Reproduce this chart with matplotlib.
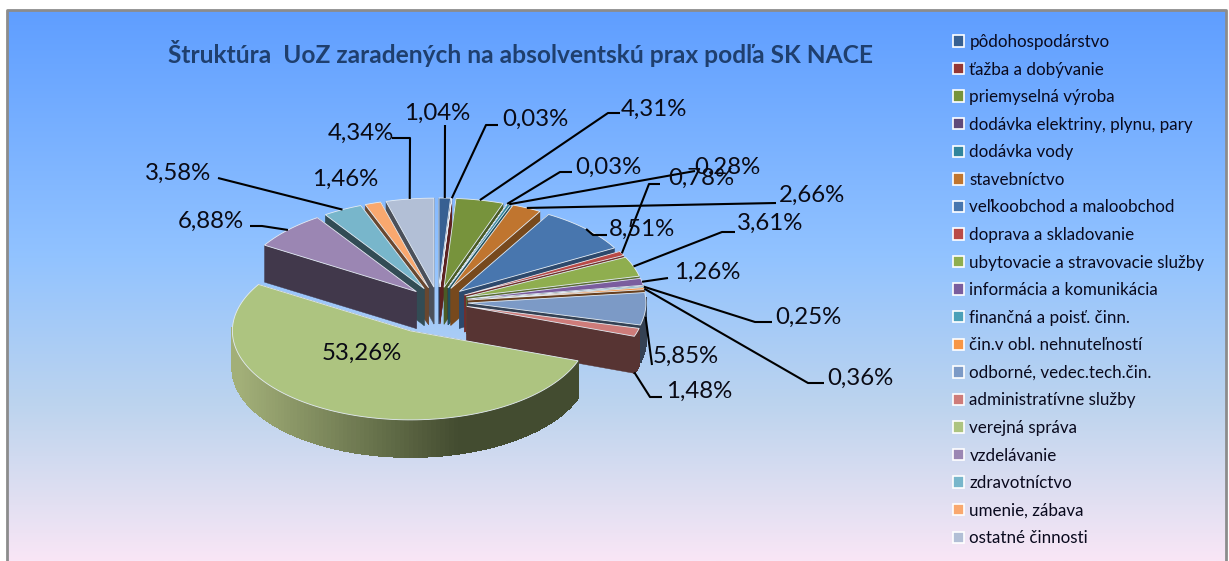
import numpy as np
import matplotlib
matplotlib.use('Agg')
import matplotlib.pyplot as plt
from matplotlib.colors import LinearSegmentedColormap, to_rgb
from matplotlib.patches import Polygon, Patch

title = 'Štruktúra  UoZ zaradených na absolventskú prax podľa SK NACE'
categories = ['pôdohospodárstvo', 'ťažba a dobývanie', 'priemyselná výroba',
              'dodávka elektriny, plynu, pary', 'dodávka vody', 'stavebníctvo',
              'veľkoobchod a maloobchod', 'doprava a skladovanie',
              'ubytovacie a stravovacie služby', 'informácia a komunikácia',
              'finančná a poisť. činn.', 'čin.v obl. nehnuteľností',
              'odborné, vedec.tech.čin.', 'administratívne služby',
              'verejná správa', 'vzdelávanie', 'zdravotníctvo',
              'umenie, zábava', 'ostatné činnosti']
values = [1.04, 0.03, 4.31, 0.03, 0.28, 2.66, 8.51, 0.78, 3.61, 1.26,
          0.25, 0.36, 5.85, 1.48, 53.26, 6.88, 3.58, 1.46, 4.34]
colors = ['#376092', '#953735', '#77933C', '#604A7B', '#31859C', '#C0752F',
          '#4876AE', '#B94A47', '#8FAE4F', '#7A5D9E', '#4BA0B8', '#F79646',
          '#7C9AC6', '#CE7C7A', '#ADC480', '#9B86B3', '#78B6CB', '#F9A86F',
          '#B2BFD6']

# pie geometry, in pixels
CX, CY = 438, 302
RADIUS = 178
TILT = 0.5
DEPTH = 37
EXPLODE = 30
BIG_EXPLODE = 64

# label position + leader elbow points (last one is next to the text)
labels_at = [(437, 113), (535, 119), (654, 109), (608, 167), (727, 167),
             (812, 195), (642, 229), (701, 178), (770, 223), (707, 272),
             (808, 317), (860, 378), (686, 356), (699, 391), (362, 353),
             (211, 221), (178, 173), (345, 179), (361, 133)]
elbows = [[(445, 125)],
          [(486, 125), (498, 125)],
          [(608, 113), (620, 113)],
          [(560, 172), (572, 172)],
          [(695, 171)],
          [(776, 203)],
          [(593, 235), (607, 235)],
          [(649, 184), (660, 184)],
          [(722, 232), (735, 232)],
          [(668, 278)],
          [(755, 322), (772, 322)],
          [(808, 383), (824, 383)],
          [(652, 365)],
          [(650, 397), (662, 397)],
          [],
          [(262, 226), (250, 226)],
          [(218, 178)],
          [],
          [(410, 138), (392, 138)]]
# where the leader leaves the slice: fraction of the slice angle, drop below the rim
leader_pos = [0.5] * len(values)
leader_drop = [0] * len(values)
leader_drop[12] = 8
leader_drop[13] = 36
leader_pos[13] = 1.0


def darker(col, f):
    return tuple(c * f for c in to_rgb(col))


def rim(apex, t, r=RADIUS):
    return apex[0] + r * np.sin(t), apex[1] - r * TILT * np.cos(t)


fig = plt.figure(figsize=(12.29, 5.61), dpi=100, facecolor='white')
ax = fig.add_axes([0, 0, 1, 1])
ax.axis('off')
plt.rcParams['font.family'] = ['Lato', 'DejaVu Sans']

bg = LinearSegmentedColormap.from_list('bg', [(0, '#5F9EFF'), (0.45, '#92C3FF'),
                                              (0.72, '#BDD4EE'), (0.9, '#E3E0F2'),
                                              (1, '#F9E6F6')])
ax.imshow(np.linspace(0, 1, 256).reshape(-1, 1), cmap=bg, aspect='auto',
          extent=(7, 1226, 561, 10), zorder=0)
ax.plot([7, 7, 1226, 1226], [561, 10, 10, 561], color='#8C8C8C', lw=2.0, zorder=1)

ax.text(521, 53, title, color='#1F3F6E', fontsize=17.65, fontweight='bold',
        ha='center', va='center', zorder=5)

frac = np.array(values) / sum(values)
starts = np.concatenate([[0], np.cumsum(frac)[:-1]]) * 2 * np.pi
ends = np.cumsum(frac) * 2 * np.pi
mids = (starts + ends) / 2
big = int(np.argmax(values))

apexes = []
for i in range(len(values)):
    e = BIG_EXPLODE if i == big else EXPLODE
    apexes.append((CX + e * np.sin(mids[i]), CY - e * TILT * np.cos(mids[i])))

order = sorted(range(len(values)), key=lambda i: (i == big, -np.cos(mids[i])))
z = 2.0
for i in order:
    apex = apexes[i]
    col = colors[i]
    ts = np.linspace(starts[i], ends[i], max(4, int(values[i] * 2.5)))
    # slices at the upper right show a lighter cut face
    shade = 0.62 if np.sin(mids[i]) > 0 and np.cos(mids[i]) > 0.2 else 0.42
    wall = darker(col, shade)
    # radial cut faces
    for t in (starts[i], ends[i]):
        x, y = rim(apex, t)
        ax.add_patch(Polygon([apex, (x, y), (x, y + DEPTH), (apex[0], apex[1] + DEPTH)],
                             fc=wall, ec=wall, lw=0.3, zorder=z))
    # outer wall, only the part facing us
    for a, b in zip(ts[:-1], ts[1:]):
        if np.cos((a + b) / 2) > 0.05:
            continue
        x0, y0 = rim(apex, a)
        x1, y1 = rim(apex, b)
        if i == big:
            s = np.clip((x0 - 240) / 220, 0, 1)
            c = np.array(to_rgb('#A2AF78')) * (1 - s) + np.array(to_rgb('#434C30')) * s
        else:
            c = wall
        ax.add_patch(Polygon([(x0, y0), (x1, y1), (x1, y1 + DEPTH), (x0, y0 + DEPTH)],
                             fc=c, ec=c, lw=0.8, antialiased=False, zorder=z))
    top = [apex] + [rim(apex, t) for t in ts]
    ax.add_patch(Polygon(top, fc=col, ec='#E4ECF4', lw=0.6, zorder=z + 0.1))
    z += 0.2

# data labels and leader lines
for i, v in enumerate(values):
    txt = f'{v:.2f}'.replace('.', ',') + '%'
    ax.text(labels_at[i][0], labels_at[i][1], txt, fontsize=17.3, color='#0A0A14',
            ha='center', va='center', zorder=9)
    if elbows[i]:
        t = starts[i] + leader_pos[i] * (ends[i] - starts[i])
        x, y = rim(apexes[i], t)
        pts = [(x, y + leader_drop[i])] + elbows[i]
        ax.plot(*zip(*pts), color='black', lw=1.5, zorder=8, solid_capstyle='butt')

handles = [Patch(fc=c, ec='white', lw=1.2) for c in colors]
ax.legend(handles, categories, loc='upper left', bbox_to_anchor=(953, 34),
          bbox_transform=ax.transData, frameon=False, fontsize=12.25,
          handlelength=0.66, handleheight=0.66, handletextpad=0.3,
          labelspacing=0.68, labelcolor='#0A0A1E', borderpad=0, borderaxespad=0)

ax.set_xlim(0, 1229)
ax.set_ylim(561, 0)
fig.savefig('out.png', dpi=100, facecolor='white')
